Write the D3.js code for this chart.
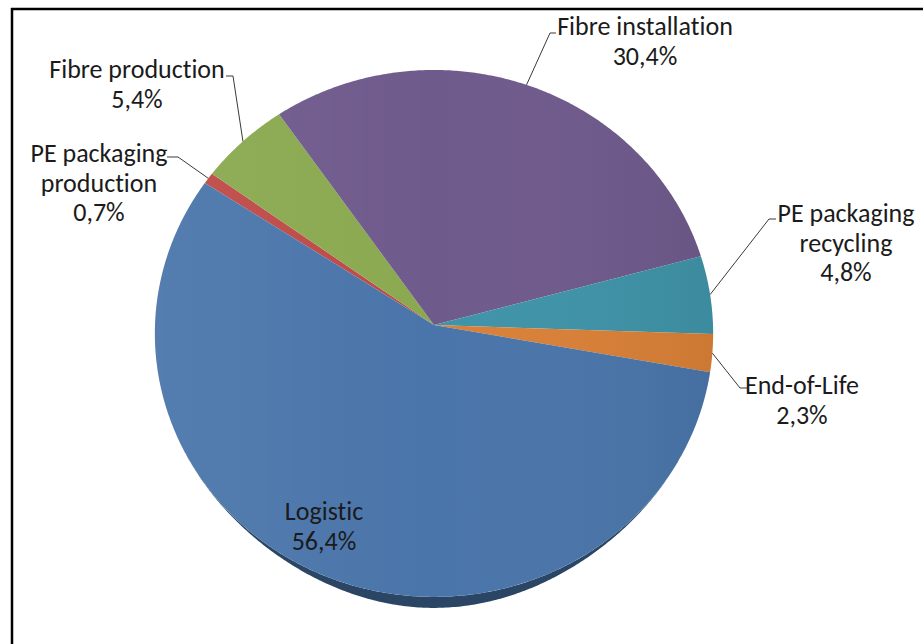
<!DOCTYPE html>
<html>
<head>
<meta charset="utf-8">
<script src="https://cdn.jsdelivr.net/npm/d3@7"></script>
<style>
  html, body { margin: 0; padding: 0; background: #fff; }
  svg { display: block; }
  text { font-family: Calibri, Carlito, Lato, "Open Sans", sans-serif; fill: #1b1b1b;
         font-variant-ligatures: none; font-feature-settings: "liga" 0, "clig" 0; }
</style>
</head>
<body>
<svg id="chart" width="923" height="644"></svg>
<script>
// Share of the total impact per life-cycle stage (%)
const categories = ["PE packaging production", "Fibre production", "Fibre installation",
                    "PE packaging recycling", "End-of-Life", "Logistic"];
const shares = [0.7, 5.4, 30.4, 4.8, 2.3, 56.4];
const labelLines = [["PE packaging", "production"], ["Fibre production"], ["Fibre installation"],
                    ["PE packaging", "recycling"], ["End-of-Life"], ["Logistic"]];
const colors = ["#be4a47", "#8aa94f", "#6f5a8c", "#3f93a8", "#d98037", "#4a75aa"];

// Label placement: text centre x, first baseline y, elbow and end of the leader line
const labelLayout = [
  { x: 99,  y: 162, elbow: [178, 157], end: [167, 157] },
  { x: 137, y: 78,  elbow: [233, 76],  end: [226, 76] },
  { x: 645, y: 35,  elbow: [550, 33],  end: [556, 33] },
  { x: 846, y: 222, elbow: [769, 219], end: [776, 219] },
  { x: 802, y: 394, elbow: [740, 388], end: [747, 388] },
  { x: 324, y: 520, elbow: null,       end: null }
];

const W = 923, H = 644;
const CX = 434, CY = 325;      // apex of the slices
const RX = 279, RY = 263.2;    // radii of the tilted disc
const P = 0.032;               // perspective strength
const DEPTH = 11;              // visible thickness at the front
const LINE_H = 29.5;
const startAngle = 303.3 * Math.PI / 180;

const fmt = d3.formatLocale({ decimal: ",", thousands: ".", grouping: [3], currency: ["", "€"] }).format(".1f");

const svg = d3.select("#chart");

// soft left-to-right lighting over the top face
const defs = svg.append("defs");
const light = defs.append("linearGradient").attr("id", "light")
  .attr("gradientUnits", "userSpaceOnUse")
  .attr("x1", CX - RX).attr("y1", 0).attr("x2", CX + RX).attr("y2", 0);
light.append("stop").attr("offset", 0).attr("stop-color", "#fff").attr("stop-opacity", 0.06);
light.append("stop").attr("offset", 0.5).attr("stop-color", "#fff").attr("stop-opacity", 0);
light.append("stop").attr("offset", 1).attr("stop-color", "#000").attr("stop-opacity", 0.06);

// frame
svg.append("line").attr("x1", 11).attr("y1", 9).attr("x2", W + 2).attr("y2", 9)
  .attr("stroke", "#000").attr("stroke-width", 2.5);
svg.append("line").attr("x1", 12).attr("y1", 8).attr("x2", 12).attr("y2", H + 2)
  .attr("stroke", "#000").attr("stroke-width", 2.5);

// map a pie angle (clockwise from 12 o'clock) and radius fraction onto the tilted disc
function project(a, r = 1) {
  const u = r * Math.sin(a), v = -r * Math.cos(a);
  const w = 1 - P * v;
  return [CX + RX * u / w, CY + RY * v / w];
}
function arcPoints(a0, a1) {
  const n = Math.max(2, Math.ceil(Math.abs(a1 - a0) / (Math.PI / 360)));
  return d3.range(n + 1).map(i => a0 + (a1 - a0) * i / n);
}

const pie = d3.pie().sort(null).value(d => d)
  .startAngle(startAngle).endAngle(startAngle + 2 * Math.PI);
const arcs = pie(shares);

const line = d3.line();

// side wall of the disc, visible along the front edge
const sideG = svg.append("g");
arcs.forEach((d, i) => {
  [[Math.PI / 2, 3 * Math.PI / 2], [Math.PI / 2 + 2 * Math.PI, 3 * Math.PI / 2 + 2 * Math.PI]].forEach(([f0, f1]) => {
    const a0 = Math.max(d.startAngle, f0), a1 = Math.min(d.endAngle, f1);
    if (a1 <= a0) return;
    const angs = arcPoints(a0, a1);
    const top = angs.map(a => project(a));
    const bottom = angs.map(a => {
      const v = Math.max(0, -Math.cos(a));
      const p = project(a);
      return [p[0], p[1] + DEPTH * Math.pow(v, 6)];
    }).reverse();
    sideG.append("path")
      .attr("d", line(top.concat(bottom)) + "Z")
      .attr("fill", d3.color(colors[i]).darker(1.5));
  });
});

// top faces
const slicePath = d => line([[CX, CY]].concat(arcPoints(d.startAngle, d.endAngle).map(a => project(a)))) + "Z";
svg.append("g").selectAll("path").data(arcs).join("path")
  .attr("d", slicePath)
  .attr("fill", (d, i) => colors[i]);
svg.append("g").selectAll("path").data(arcs).join("path")
  .attr("d", slicePath)
  .attr("fill", "url(#light)");

// leader lines
const leaderG = svg.append("g").attr("fill", "none").attr("stroke", "#3a3a3a").attr("stroke-width", 1);
arcs.forEach((d, i) => {
  const L = labelLayout[i];
  if (!L.elbow) return;
  const mid = (d.startAngle + d.endAngle) / 2;
  leaderG.append("path").attr("d", line([project(mid), L.elbow, L.end]));
});

// labels
const labelG = svg.append("g").attr("text-anchor", "middle").style("font-size", "26px");
arcs.forEach((d, i) => {
  const L = labelLayout[i];
  const lines = labelLines[i].concat([fmt(shares[i]) + "%"]);
  const t = labelG.append("text").attr("x", L.x).attr("y", L.y);
  lines.forEach((s, k) => {
    t.append("tspan").attr("x", L.x).attr("y", L.y + k * LINE_H).text(s);
  });
});
</script>
</body>
</html>
